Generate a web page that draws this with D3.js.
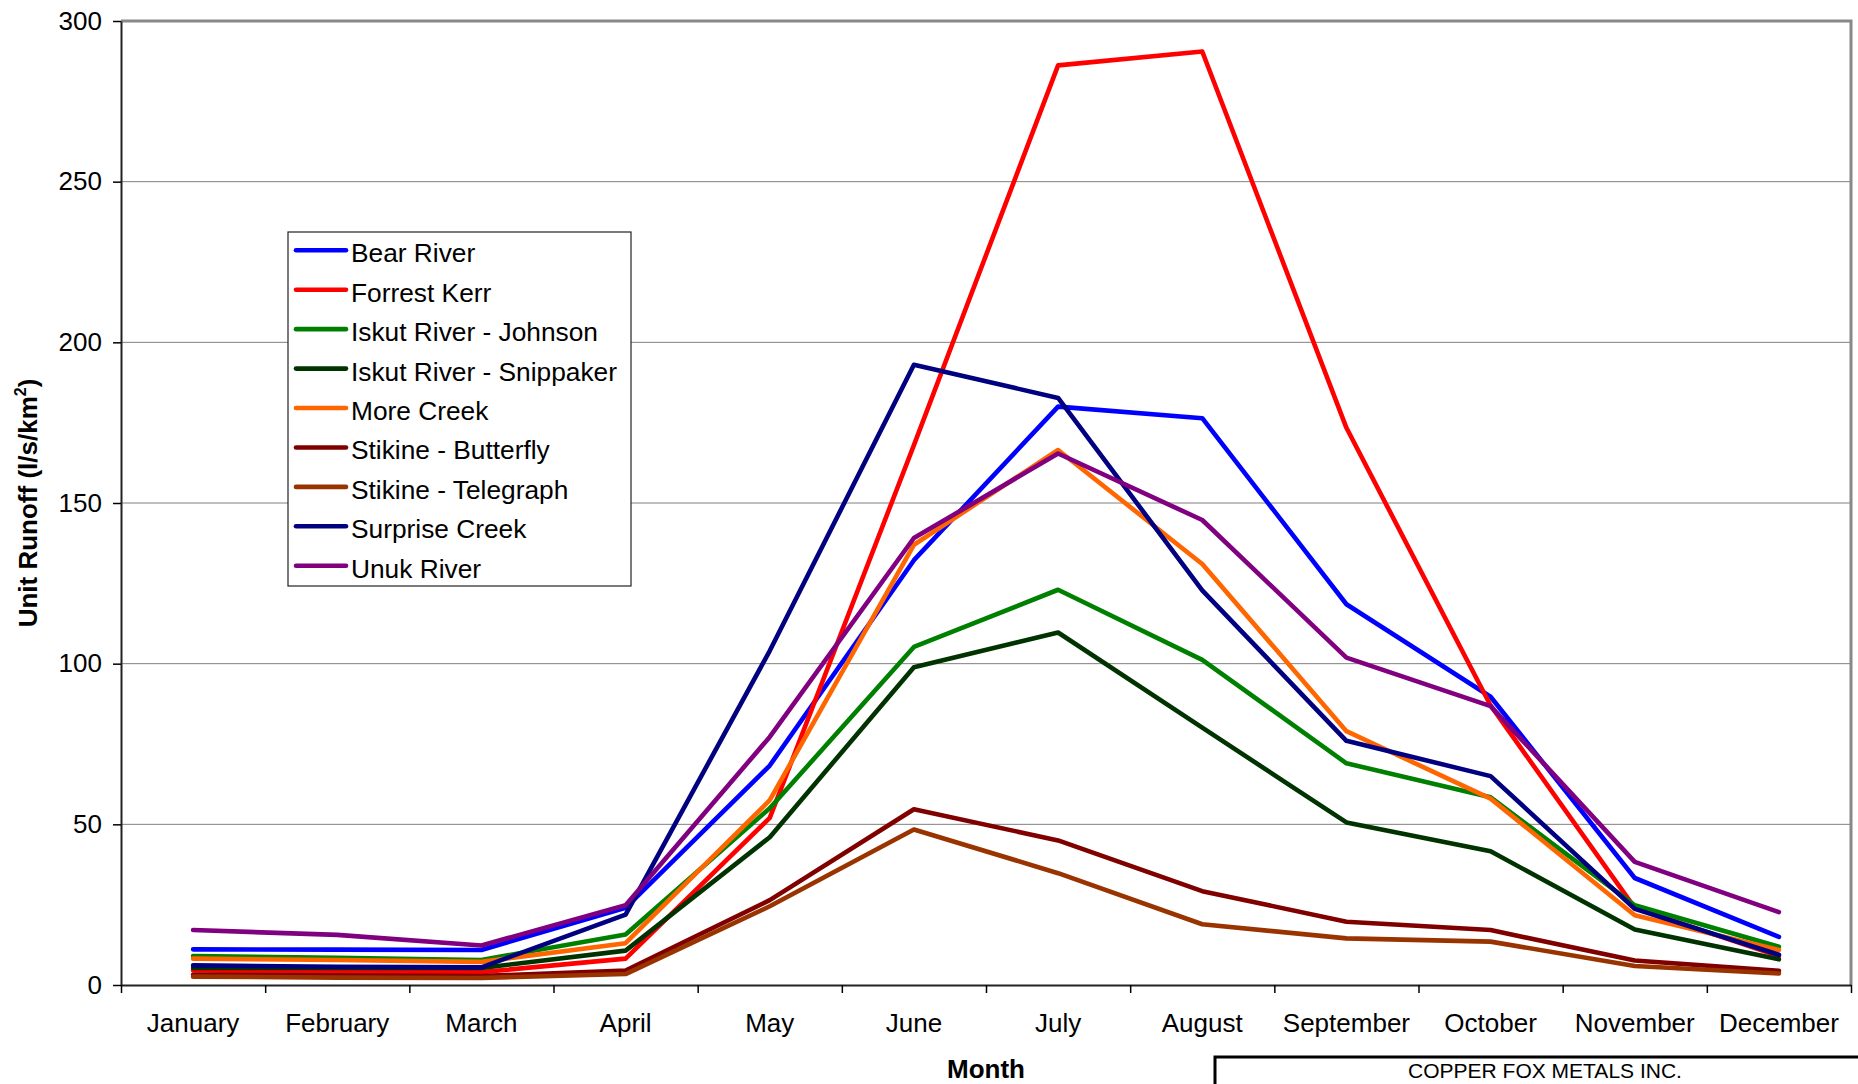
<!DOCTYPE html>
<html>
<head>
<meta charset="utf-8">
<script src="https://cdn.jsdelivr.net/npm/d3@7"></script>
<style>
  html, body { margin: 0; padding: 0; background: #fff; }
  svg { display: block; font-family: "Liberation Sans", Arial, sans-serif; }
</style>
</head>
<body>
<svg id="chart" width="1858" height="1084"></svg>
<script>
// Monthly unit runoff (l/s/km²) by gauging station
const months = ["January", "February", "March", "April", "May", "June",
                "July", "August", "September", "October", "November", "December"];

const bearRiver          = [11.1, 11.0, 10.9, 24.0, 68.3, 132.2, 180.0, 176.4, 118.5, 89.7, 33.3, 15.0];
const forrestKerr        = [4.5, 4.2, 4.0, 8.2, 52.0, 168.0, 286.2, 290.5, 173.4, 87.0, 24.0, 9.0];
const iskutJohnson       = [9.0, 8.5, 7.8, 15.7, 55.0, 105.2, 123.0, 101.2, 69.0, 58.4, 24.8, 11.9];
const iskutSnippaker     = [5.3, 5.3, 5.3, 10.7, 46.0, 98.9, 109.7, 80.1, 50.6, 41.6, 17.3, 8.0];
const moreCreek          = [8.2, 7.8, 7.2, 13.0, 57.5, 137.0, 166.5, 131.0, 79.0, 58.0, 21.7, 10.9];
const stikineButterfly   = [3.2, 3.0, 2.8, 4.5, 26.4, 54.7, 45.0, 29.2, 19.7, 17.1, 7.6, 4.4];
const stikineTelegraph   = [2.6, 2.3, 2.2, 3.4, 24.5, 48.4, 34.8, 18.9, 14.5, 13.5, 5.9, 3.6];
const surpriseCreek      = [6.1, 5.7, 5.5, 21.9, 104.0, 193.0, 182.7, 122.8, 76.0, 65.0, 23.7, 9.4];
const unukRiver          = [17.1, 15.6, 12.3, 24.8, 77.2, 139.1, 165.4, 144.7, 101.9, 86.8, 38.3, 22.7];

const seriesNames  = ["Bear River", "Forrest Kerr", "Iskut River - Johnson", "Iskut River - Snippaker",
                      "More Creek", "Stikine - Butterfly", "Stikine - Telegraph", "Surprise Creek", "Unuk River"];
const seriesValues = [bearRiver, forrestKerr, iskutJohnson, iskutSnippaker, moreCreek,
                      stikineButterfly, stikineTelegraph, surpriseCreek, unukRiver];
const seriesColors = ["#0000ff", "#ff0000", "#008000", "#003300", "#ff6600",
                      "#800000", "#993300", "#000080", "#800080"];

const yTicks = [0, 50, 100, 150, 200, 250, 300];

// ---- layout ----
const plot = { left: 121, right: 1851, top: 21, bottom: 985 };
const svg = d3.select("#chart");

svg.append("rect").attr("width", 1858).attr("height", 1084).attr("fill", "#fff");

const x = d3.scaleBand().domain(months).range([plot.left, plot.right]).padding(0);
const xEdge = d3.scaleLinear().domain([0, months.length]).range([plot.left, plot.right]);
const y = d3.scaleLinear().domain([0, 300]).range([plot.bottom, plot.top]);

// horizontal gridlines
svg.append("g")
  .selectAll("line")
  .data(yTicks.filter(t => t > 0 && t < 300))
  .join("line")
  .attr("x1", plot.left).attr("x2", plot.right)
  .attr("y1", d => y(d)).attr("y2", d => y(d))
  .attr("stroke", "#808080").attr("stroke-width", 1);

// top and right frame
svg.append("path")
  .attr("d", `M${plot.left},${y(300)}H${plot.right}V${plot.bottom}`)
  .attr("fill", "none").attr("stroke", "#888").attr("stroke-width", 3);

// y axis
const yAxis = svg.append("g")
  .attr("transform", `translate(${plot.left},0)`)
  .call(d3.axisLeft(y).tickValues(yTicks).tickSize(8).tickPadding(11).tickSizeOuter(0));
yAxis.select(".domain").attr("stroke", "#222").attr("stroke-width", 2);
yAxis.selectAll(".tick line").attr("stroke", "#000").attr("stroke-width", 1.5);
yAxis.selectAll(".tick text").attr("font-size", 26).attr("fill", "#000")
  .attr("font-family", "'Liberation Sans', Arial, sans-serif");

// x axis: boundary ticks
const xTickAxis = svg.append("g")
  .attr("transform", `translate(0,${plot.bottom})`)
  .call(d3.axisBottom(xEdge).tickValues(d3.range(0, 13)).tickFormat("").tickSize(8).tickSizeOuter(0));
xTickAxis.select(".domain").attr("stroke", "#222").attr("stroke-width", 2);
xTickAxis.selectAll(".tick line").attr("stroke", "#000").attr("stroke-width", 1.5);

// x axis: month labels centred in their bands
const xLabelAxis = svg.append("g")
  .attr("transform", `translate(0,${plot.bottom})`)
  .call(d3.axisBottom(x).tickSize(0).tickPadding(28.5));
xLabelAxis.select(".domain").remove();
xLabelAxis.selectAll(".tick text").attr("font-size", 26).attr("fill", "#000")
  .attr("font-family", "'Liberation Sans', Arial, sans-serif");

// axis titles
svg.append("text")
  .attr("x", (plot.left + plot.right) / 2).attr("y", 1078)
  .attr("text-anchor", "middle").attr("font-size", 26).attr("font-weight", "bold")
  .text("Month");

const yTitle = svg.append("text")
  .attr("transform", `translate(37,${(plot.top + plot.bottom) / 2}) rotate(-90)`)
  .attr("text-anchor", "middle").attr("font-size", 26).attr("font-weight", "bold");
yTitle.append("tspan").text("Unit Runoff (l/s/km");
yTitle.append("tspan").attr("font-size", 16).attr("dy", -11).text("2");
yTitle.append("tspan").attr("dy", 11).text(")");

// series lines
const line = d3.line()
  .x((d, i) => x(months[i]) + x.bandwidth() / 2)
  .y(d => y(d));

svg.append("g")
  .selectAll("path")
  .data(seriesValues)
  .join("path")
  .attr("d", d => line(d))
  .attr("fill", "none")
  .attr("stroke", (d, i) => seriesColors[i])
  .attr("stroke-width", 4.6)
  .attr("stroke-linejoin", "round")
  .attr("stroke-linecap", "round");

// legend
const legend = svg.append("g");
legend.append("rect")
  .attr("x", 288).attr("y", 232).attr("width", 343).attr("height", 354)
  .attr("fill", "#fff").attr("stroke", "#222").attr("stroke-width", 1.2);
const rows = legend.selectAll("g.row")
  .data(seriesNames)
  .join("g")
  .attr("class", "row")
  .attr("transform", (d, i) => `translate(0,${250.3 + i * 39.43})`);
rows.append("line")
  .attr("x1", 296).attr("x2", 346).attr("y1", 0).attr("y2", 0)
  .attr("stroke", (d, i) => seriesColors[i]).attr("stroke-width", 4.6)
  .attr("stroke-linecap", "round");
rows.append("text")
  .attr("x", 351).attr("y", 12)
  .attr("font-size", 26.3).attr("fill", "#000")
  .text(d => d);

// company title block
svg.append("rect")
  .attr("x", 1215).attr("y", 1057).attr("width", 700).attr("height", 100)
  .attr("fill", "#fff").attr("stroke", "#000").attr("stroke-width", 3);
svg.append("text")
  .attr("x", 1545).attr("y", 1078)
  .attr("text-anchor", "middle").attr("font-size", 21)
  .text("COPPER FOX METALS INC.");
</script>
</body>
</html>
